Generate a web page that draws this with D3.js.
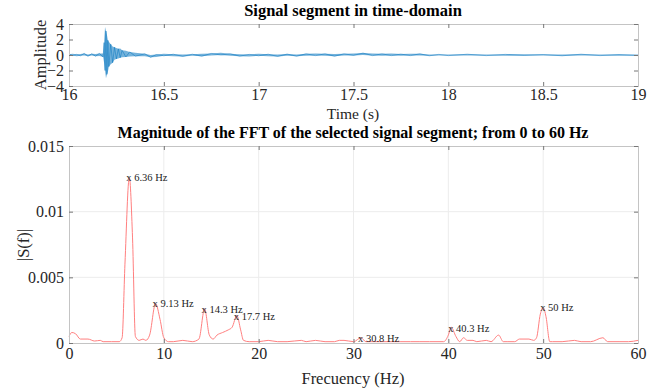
<!doctype html>
<html>
<head>
<meta charset="UTF-8">
<title>Signal and FFT</title>
<style>
  body { margin: 0; background: #fff; }
  svg { display: block; }
  svg text { font-family: "Liberation Serif", "Times New Roman", Times, serif !important; }
</style>
</head>
<body>
<div id="chart"></div>
<script src="https://cdn.jsdelivr.net/npm/d3@7"></script>
<script>
// time-domain signal, drawn as an envelope (hi / lo)
var sigTime = [16.00, 16.02, 16.04, 16.06, 16.08, 16.10, 16.12, 16.14, 16.16, 16.18, 16.185,
  16.19, 16.195, 16.20, 16.205, 16.21, 16.22, 16.23, 16.24, 16.25, 16.26, 16.27, 16.28, 16.30,
  16.32, 16.35, 16.40, 16.43, 16.46, 16.50, 16.55, 16.60, 16.65, 16.70, 16.75, 16.80, 16.85,
  16.90, 16.95, 17.00, 17.05, 17.10, 17.15, 17.20, 17.25, 17.30, 17.35, 17.40, 17.45, 17.50,
  17.55, 17.60, 17.65, 17.70, 17.75, 17.80, 17.85, 17.90, 17.95, 18.00, 18.10, 18.20, 18.30,
  18.40, 18.50, 18.60, 18.70, 18.80, 18.90, 19.00];
var sigHi = [0.1, 0.15, 0.08, 0.12, 0.2, 0.08, 0.15, 0.12, 0.2, 0.2, 1.6,
  3.6, 3.1, 2.6, 1.9, 1.7, 1.4, 1.1, 1.0, 0.9, 0.8, 0.85, 0.6, 0.55,
  0.4, 0.3, 0.15, 0.0, 0.05, 0.15, 0.1, 0.08, 0.1, 0.15, 0.2, 0.3, 0.15,
  0.1, 0.08, 0.15, 0.1, 0.08, 0.12, 0.08, 0.15, 0.2, 0.15, 0.12, 0.15, 0.2,
  0.25, 0.2, 0.15, 0.2, 0.12, 0.15, 0.15, 0.08, 0.08, 0.08, 0.1, 0.06, 0.08,
  0.1, 0.06, 0.08, 0.1, 0.08, 0.06, 0.08];
var sigLo = [-0.1, -0.08, -0.15, -0.1, -0.08, -0.15, -0.08, -0.15, -0.12, -0.25, -1.0,
  -2.0, -3.0, -2.5, -2.2, -1.5, -1.2, -1.0, -0.6, -0.5, -0.45, -0.35, -0.3, -0.25,
  -0.2, -0.15, -0.15, -0.3, -0.25, -0.1, -0.15, -0.18, -0.1, -0.15, -0.08, 0.0, -0.1,
  -0.15, -0.18, -0.1, -0.15, -0.18, -0.1, -0.15, -0.1, -0.08, -0.1, -0.15, -0.08, -0.05,
  0.0, -0.08, -0.1, -0.08, -0.1, -0.08, -0.08, -0.1, -0.08, -0.08, -0.06, -0.08, -0.1,
  -0.06, -0.08, -0.1, -0.06, -0.08, -0.1, -0.08];
var timeTicks = [16, 16.5, 17, 17.5, 18, 18.5, 19];
var ampTicks = [-4, -2, 0, 2, 4];

// FFT magnitude spectrum
var fftFreq = [0, 0.3, 0.7, 1.2, 2, 2.7, 3.3, 3.6, 4.5, 5.3, 5.6, 5.9, 6.36, 6.7, 7.0, 7.4, 7.8,
  8.1, 8.5, 9.13, 9.6, 10.0, 10.5, 11, 12, 13, 13.7, 14.3, 14.8, 15.2, 15.6, 16.2, 16.8, 17.2,
  17.7, 18.1, 18.4, 19, 20, 21, 22, 23, 24.5, 25, 26, 27, 28, 28.5, 29, 30, 30.8, 31.3, 32, 33,
  34, 35, 36, 37, 38, 39.5, 40.0, 40.3, 40.8, 41.2, 41.6, 42, 42.6, 43, 44, 44.5, 45.3, 45.8,
  46.2, 47, 47.5, 48.5, 49, 49.3, 49.7, 50, 50.3, 50.7, 51, 52, 53.3, 54, 55, 56.3, 56.8, 58,
  59, 60];
var fftMag = [0.0005, 0.0008, 0.0007, 0.0003, 0.0003, 0.00015, 0.0002, 0.0001, 0.0001, 0.0001,
  0.0004, 0.006, 0.0126, 0.008, 0.0005, 0.0002, 0.0003, 0.0002, 0.0006, 0.0030, 0.0018, 0.0004,
  0.0001, 0.0001, 0.0002, 0.0001, 0.0003, 0.0026, 0.0006, 0.0003, 0.0006, 0.0008, 0.0010, 0.0012,
  0.0021, 0.0010, 0.0002, 0.0001, 0.0001, 0.0002, 0.0001, 0.0001, 0.0002, 0.0001, 0.0002, 0.0001,
  0.0001, 0.0002, 0.0002, 0.0001, 0.0004, 0.0001, 0.0001, 0.0001, 0.0001, 0.0001, 0.0001, 0.0001,
  0.0001, 0.0001, 0.0006, 0.0012, 0.0005, 0.0001, 0.0004, 0.0002, 0.0002, 0.0001, 0.0002, 0.0001,
  0.0006, 0.0001, 0.0001, 0.0001, 0.0003, 0.0003, 0.0002, 0.0004, 0.0022, 0.0027, 0.0020, 0.0001,
  0.0001, 0.0001, 0.0002, 0.0001, 0.0001, 0.0004, 0.0001, 0.0001, 0.0001, 0.0002];
var peakFreq = [6.36, 9.13, 14.3, 17.7, 30.8, 40.3, 50];
var peakMag = [0.01256, 0.00297, 0.00251, 0.00198, 0.0003, 0.00107, 0.00267];
var peakLabels = ["6.36 Hz", "9.13 Hz", "14.3 Hz", "17.7 Hz", "30.8 Hz", "40.3 Hz", "50 Hz"];
var freqTicks = [0, 10, 20, 30, 40, 50, 60];
var magTicks = [0, 0.005, 0.01, 0.015];

var W = 659, H = 390;
var boxColor = "#c4c4c4", textColor = "#262626";

var svg = d3.select("#chart").append("svg")
  .attr("width", W)
  .attr("height", H);

// ---------- top panel ----------
var x1 = d3.scaleLinear().domain([16, 19]).range([69, 638]);
var y1 = d3.scaleLinear().domain([-4, 4]).range([86, 24]);

var topG = svg.append("g");

topG.append("path")
  .datum(d3.range(sigTime.length))
  .attr("fill", "#0072bd")
  .attr("fill-opacity", 0.55)
  .attr("d", d3.area()
    .x(function(i) { return x1(sigTime[i]); })
    .y0(function(i) { return y1(sigLo[i]); })
    .y1(function(i) { return y1(sigHi[i]); }));

// zigzag between hi and lo to give it the look of a dense trace
var zig = [];
sigTime.forEach(function(t, i) {
  zig.push([t, i % 2 ? sigLo[i] : sigHi[i]]);
});
topG.append("path")
  .datum(zig)
  .attr("fill", "none")
  .attr("stroke", "#0072bd")
  .attr("stroke-opacity", 0.8)
  .attr("stroke-width", 0.6)
  .attr("d", d3.line()
    .x(function(d) { return x1(d[0]); })
    .y(function(d) { return y1(d[1]); }));

topG.append("g")
  .attr("transform", "translate(0,86)")
  .call(d3.axisBottom(x1).tickValues(timeTicks).tickSize(-4).tickPadding(3)
    .tickFormat(function(d) { return d; }))
  .call(styleAxis);
topG.append("g")
  .attr("transform", "translate(0,24)")
  .call(d3.axisTop(x1).tickValues(timeTicks).tickSize(-4).tickFormat(""))
  .call(styleAxis);
topG.append("g")
  .attr("transform", "translate(69,0)")
  .call(d3.axisLeft(y1).tickValues(ampTicks).tickSize(-4).tickPadding(5))
  .call(styleAxis);
topG.append("g")
  .attr("transform", "translate(638,0)")
  .call(d3.axisRight(y1).tickValues(ampTicks).tickSize(-4).tickFormat(""))
  .call(styleAxis);

svg.append("text")
  .attr("x", 353).attr("y", 16)
  .attr("text-anchor", "middle")
  .style("font-weight", "bold")
  .style("font-size", "16.5px")
  .attr("fill", "#000")
  .text("Signal segment in time-domain");
svg.append("text")
  .attr("x", 353).attr("y", 118.5)
  .attr("text-anchor", "middle")
  .style("font-size", "15.5px")
  .attr("fill", textColor)
  .text("Time (s)");
svg.append("text")
  .attr("transform", "translate(46,55) rotate(-90)")
  .attr("text-anchor", "middle")
  .style("font-size", "16.5px")
  .attr("fill", textColor)
  .text("Amplitude");

// ---------- bottom panel ----------
var x2 = d3.scaleLinear().domain([0, 60]).range([69, 638]);
var y2 = d3.scaleLinear().domain([0, 0.015]).range([343, 146]);

var botG = svg.append("g");

botG.append("g")
  .selectAll("line")
  .data(freqTicks.slice(1, -1))
  .join("line")
  .attr("x1", function(d) { return x2(d); })
  .attr("x2", function(d) { return x2(d); })
  .attr("y1", 146).attr("y2", 343)
  .attr("stroke", "#ececec");
botG.append("g")
  .selectAll("line")
  .data(magTicks.slice(1, -1))
  .join("line")
  .attr("x1", 69).attr("x2", 638)
  .attr("y1", function(d) { return y2(d); })
  .attr("y2", function(d) { return y2(d); })
  .attr("stroke", "#ececec");

botG.append("path")
  .datum(d3.range(fftFreq.length))
  .attr("fill", "none")
  .attr("stroke", "#ff7f7f")
  .attr("stroke-width", 1)
  .attr("d", d3.line()
    .curve(d3.curveMonotoneX)
    .x(function(i) { return x2(fftFreq[i]); })
    .y(function(i) { return y2(fftMag[i]); }));

var peaks = botG.append("g")
  .selectAll("g")
  .data(d3.range(peakFreq.length))
  .join("g")
  .attr("transform", function(i) {
    return "translate(" + x2(peakFreq[i]) + "," + y2(peakMag[i]) + ")";
  });
peaks.append("text")
  .attr("x", -3).attr("y", 3)
  .style("font-size", "10.5px")
  .attr("fill", "#222")
  .text(function(i) { return "x " + peakLabels[i]; });

botG.append("g")
  .attr("transform", "translate(0,343)")
  .call(d3.axisBottom(x2).tickValues(freqTicks).tickSize(-4).tickPadding(5))
  .call(styleAxis);
botG.append("g")
  .attr("transform", "translate(0,146)")
  .call(d3.axisTop(x2).tickValues(freqTicks).tickSize(-4).tickFormat(""))
  .call(styleAxis);
botG.append("g")
  .attr("transform", "translate(69,0)")
  .call(d3.axisLeft(y2).tickValues(magTicks).tickSize(-4).tickPadding(5)
    .tickFormat(function(d) { return d; }))
  .call(styleAxis);
botG.append("g")
  .attr("transform", "translate(638,0)")
  .call(d3.axisRight(y2).tickValues(magTicks).tickSize(-4).tickFormat(""))
  .call(styleAxis);

svg.append("text")
  .attr("x", 353).attr("y", 138)
  .attr("text-anchor", "middle")
  .style("font-weight", "bold")
  .style("font-size", "16px")
  .attr("fill", "#000")
  .text("Magnitude of the FFT of the selected signal segment; from 0 to 60 Hz");
svg.append("text")
  .attr("x", 353).attr("y", 384)
  .attr("text-anchor", "middle")
  .style("font-size", "16.5px")
  .attr("fill", textColor)
  .text("Frecuency (Hz)");
svg.append("text")
  .attr("transform", "translate(29,245) rotate(-90)")
  .attr("text-anchor", "middle")
  .style("font-size", "16.5px")
  .attr("fill", textColor)
  .text("|S(f)|");

function styleAxis(g) {
  g.attr("font-family", null);
  g.select(".domain").attr("stroke", boxColor);
  g.selectAll(".tick line").attr("stroke", "#777");
  g.selectAll(".tick text")
    .attr("fill", textColor)
    .style("font-size", "16px");
}
</script>
</body>
</html>
